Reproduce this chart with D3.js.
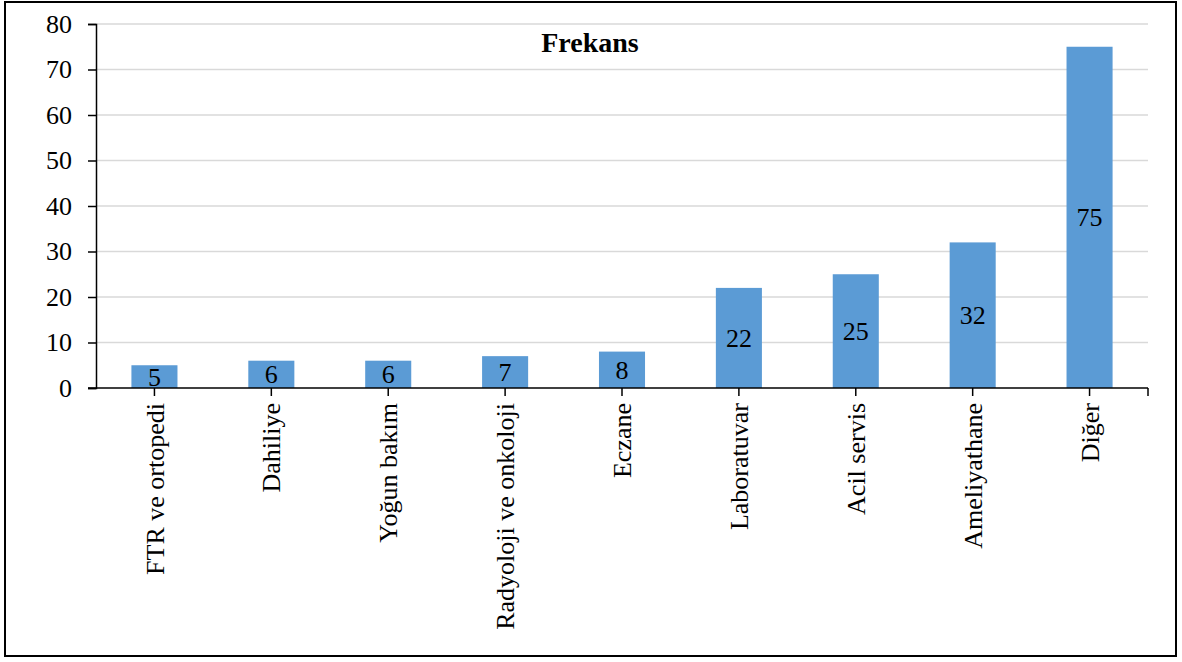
<!DOCTYPE html>
<html>
<head>
<meta charset="utf-8">
<script src="https://cdn.jsdelivr.net/npm/d3@7"></script>
<style>
  html, body { margin: 0; padding: 0; background: #fff; }
  svg { display: block; }
  svg text { font-family: "Liberation Serif", "Times New Roman", Times, serif !important; fill: #000; }
</style>
</head>
<body>
<svg id="chart" width="1182" height="662"></svg>
<script>
// Frequency per department
const categories = ["FTR ve ortopedi", "Dahiliye", "Yoğun bakım", "Radyoloji ve onkoloji", "Eczane", "Laboratuvar", "Acil servis", "Ameliyathane", "Diğer"];
const frequencies = [5, 6, 6, 7, 8, 22, 25, 32, 75];
const yTicks = [0, 10, 20, 30, 40, 50, 60, 70, 80];
const chartTitle = "Frekans";

const serif = "'Liberation Serif', 'Times New Roman', Times, serif";
const svg = d3.select("#chart");
const W = 1182, H = 662;
const margin = { left: 96, right: W - 1148, top: 24, bottom: H - 388 };
const innerW = W - margin.left - margin.right;
const innerH = H - margin.top - margin.bottom;

// outer frame
svg.append("rect")
  .attr("x", 5).attr("y", 2)
  .attr("width", 1171).attr("height", 654)
  .attr("fill", "#fff").attr("stroke", "#000").attr("stroke-width", 2);

const g = svg.append("g").attr("transform", `translate(${margin.left},${margin.top})`);

const x = d3.scaleBand().domain(categories).range([0, innerW]).paddingInner(0.606).paddingOuter(0.303);
const y = d3.scaleLinear().domain([0, 80]).range([innerH, 0]);

// horizontal gridlines
g.append("g")
  .selectAll("line")
  .data(yTicks.filter(d => d > 0))
  .join("line")
  .attr("x1", 0).attr("x2", innerW)
  .attr("y1", d => y(d)).attr("y2", d => y(d))
  .attr("stroke", "#d9d9d9").attr("stroke-width", 1.5);

// bars
g.append("g")
  .selectAll("rect")
  .data(frequencies)
  .join("rect")
  .attr("x", (d, i) => x(categories[i]))
  .attr("y", d => y(d))
  .attr("width", x.bandwidth())
  .attr("height", d => y(0) - y(d))
  .attr("fill", "#5b9bd5");

// value labels, centred in each bar
g.append("g")
  .selectAll("text")
  .data(frequencies)
  .join("text")
  .attr("x", (d, i) => x(categories[i]) + x.bandwidth() / 2)
  .attr("y", d => (y(d) + y(0)) / 2)
  .attr("dy", "0.35em")
  .attr("text-anchor", "middle")
  .style("font-family", serif)
  .style("font-size", "26px")
  .text(d => d);

// y axis
const yAxis = g.append("g")
  .attr("font-family", serif)
  .call(d3.axisLeft(y).tickValues(yTicks).tickSize(8).tickPadding(16).tickFormat(d3.format("d")));
yAxis.attr("font-family", serif);
yAxis.select(".domain").attr("stroke", "#000").attr("stroke-width", 1.5);
yAxis.selectAll(".tick line").attr("stroke", "#000").attr("stroke-width", 1.5);
yAxis.selectAll(".tick text").style("font-size", "26px").style("font-family", serif).attr("fill", "#000");

// x axis: line, ticks at category centres and at the right end
const xAxisG = g.append("g").attr("transform", `translate(0,${innerH})`);
xAxisG.append("line")
  .attr("x1", -8).attr("x2", innerW)
  .attr("stroke", "#000").attr("stroke-width", 1.5);
const tickXs = categories.map(c => x(c) + x.bandwidth() / 2).concat([innerW]);
xAxisG.selectAll("line.tick")
  .data(tickXs)
  .join("line")
  .attr("class", "tick")
  .attr("x1", d => d).attr("x2", d => d)
  .attr("y1", 0).attr("y2", 8)
  .attr("stroke", "#000").attr("stroke-width", 1.5);

// rotated category labels
xAxisG.selectAll("text")
  .data(categories)
  .join("text")
  .attr("transform", d => `translate(${x(d) + x.bandwidth() / 2},${15}) rotate(-90)`)
  .attr("text-anchor", "end")
  .attr("dy", "0.35em")
  .style("font-family", serif)
  .style("font-size", "26px")
  .text(d => d);

// title
svg.append("text")
  .attr("x", 590).attr("y", 52)
  .attr("text-anchor", "middle")
  .style("font-family", serif)
  .style("font-size", "28px")
  .style("font-weight", "bold")
  .text(chartTitle);
</script>
</body>
</html>
